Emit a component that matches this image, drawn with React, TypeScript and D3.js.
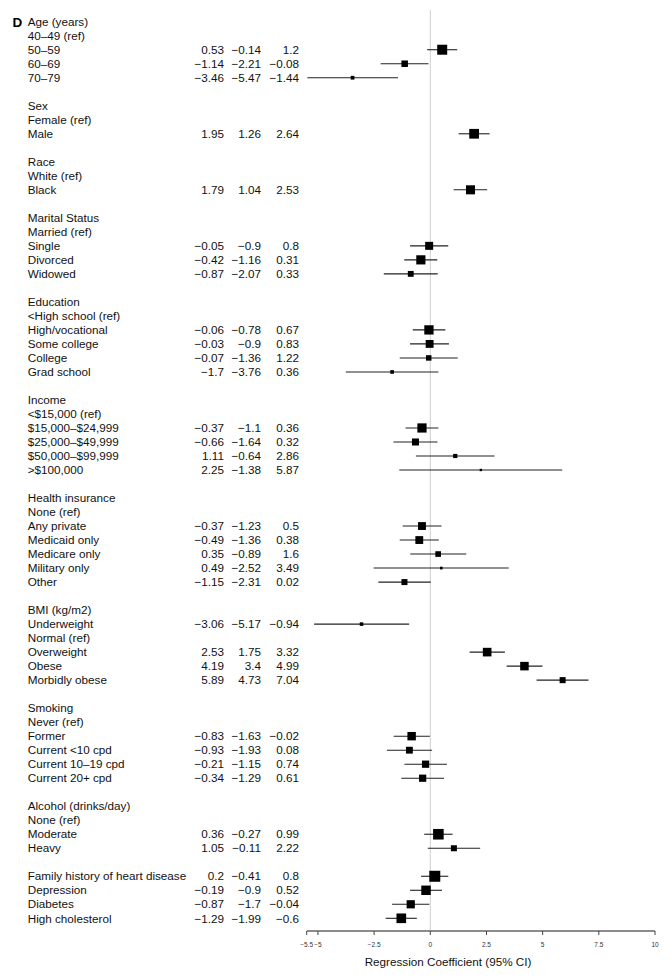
import React from "react";
import * as d3 from "d3";

const labels: string[] = [
  "Age (years)", "40–49 (ref)", "50–59", "60–69", "70–79", "",
  "Sex", "Female (ref)", "Male", "",
  "Race", "White (ref)", "Black", "",
  "Marital Status", "Married (ref)", "Single", "Divorced", "Widowed", "",
  "Education", "<High school (ref)", "High/vocational", "Some college", "College", "Grad school", "",
  "Income", "<$15,000 (ref)", "$15,000–$24,999", "$25,000–$49,999", "$50,000–$99,999", ">$100,000", "",
  "Health insurance", "None (ref)", "Any private", "Medicaid only", "Medicare only", "Military only", "Other", "",
  "BMI (kg/m2)", "Underweight", "Normal (ref)", "Overweight", "Obese", "Morbidly obese", "",
  "Smoking", "Never (ref)", "Former", "Current <10 cpd", "Current 10–19 cpd", "Current 20+ cpd", "",
  "Alcohol (drinks/day)", "None (ref)", "Moderate", "Heavy", "",
  "Family history of heart disease", "Depression", "Diabetes", "High cholesterol",
];

type V = number | null;
const estimate: V[] = [
  null, null, 0.53, -1.14, -3.46, null,
  null, null, 1.95, null,
  null, null, 1.79, null,
  null, null, -0.05, -0.42, -0.87, null,
  null, null, -0.06, -0.03, -0.07, -1.7, null,
  null, null, -0.37, -0.66, 1.11, 2.25, null,
  null, null, -0.37, -0.49, 0.35, 0.49, -1.15, null,
  null, -3.06, null, 2.53, 4.19, 5.89, null,
  null, null, -0.83, -0.93, -0.21, -0.34, null,
  null, null, 0.36, 1.05, null,
  0.2, -0.19, -0.87, -1.29,
];
const lower: V[] = [
  null, null, -0.14, -2.21, -5.47, null,
  null, null, 1.26, null,
  null, null, 1.04, null,
  null, null, -0.9, -1.16, -2.07, null,
  null, null, -0.78, -0.9, -1.36, -3.76, null,
  null, null, -1.1, -1.64, -0.64, -1.38, null,
  null, null, -1.23, -1.36, -0.89, -2.52, -2.31, null,
  null, -5.17, null, 1.75, 3.4, 4.73, null,
  null, null, -1.63, -1.93, -1.15, -1.29, null,
  null, null, -0.27, -0.11, null,
  -0.41, -0.9, -1.7, -1.99,
];
const upper: V[] = [
  null, null, 1.2, -0.08, -1.44, null,
  null, null, 2.64, null,
  null, null, 2.53, null,
  null, null, 0.8, 0.31, 0.33, null,
  null, null, 0.67, 0.83, 1.22, 0.36, null,
  null, null, 0.36, 0.32, 2.86, 5.87, null,
  null, null, 0.5, 0.38, 1.6, 3.49, 0.02, null,
  null, -0.94, null, 3.32, 4.99, 7.04, null,
  null, null, -0.02, 0.08, 0.74, 0.61, null,
  null, null, 0.99, 2.22, null,
  0.8, 0.52, -0.04, -0.6,
];

const tickValues: number[] = [-5.5, -5, -2.5, 0, 2.5, 5, 7.5, 10];
const axisTitle = "Regression Coefficient (95% CI)";

const fmt = (v: number) => {
  const s = String(v);
  return s.startsWith("-") ? "−" + s.slice(1) : s;
};

export default function App() {
  const W = 672, H = 980;
  const x = d3.scaleLinear().domain([-5.5, 10]).range([306.7, 655]);
  const y = d3.scaleLinear().domain([0, labels.length - 1]).range([21.7, 918.3]);
  const font = "'Liberation Sans', Arial, Helvetica, sans-serif";
  const fs = 11.7;
  const widths = labels.map((_, i) =>
    upper[i] != null && lower[i] != null ? (upper[i] as number) - (lower[i] as number) : Infinity
  );
  const minW = d3.min(widths) as number;
  const box = d3.scaleLinear().domain([0, 1]).range([0.6, 11]);
  const axisY = 931;
  return (
    <svg width={W} height={H} style={{ position: "absolute", left: 0, top: 0 }} fontFamily={font}>
      <rect width={W} height={H} fill="#fff" />
      <text x={12.5} y={27} fontSize={13.5} fontWeight="bold" fill="#000">D</text>
      <line x1={x(0)} x2={x(0)} y1={10} y2={axisY} stroke="#cfcfcf" strokeWidth={1} />
      {labels.map((lab, i) => {
        const cy = y(i);
        const e = estimate[i], lo = lower[i], hi = upper[i];
        return (
          <g key={i}>
            {lab && (
              <text x={27.7} y={cy + 4.2} fontSize={fs} fill="#111">{lab}</text>
            )}
            {e != null && lo != null && hi != null && (
              <g>
                <text x={224} y={cy + 4.2} fontSize={fs} fill="#111" textAnchor="end">{fmt(e)}</text>
                <text x={261} y={cy + 4.2} fontSize={fs} fill="#111" textAnchor="end">{fmt(lo)}</text>
                <text x={299} y={cy + 4.2} fontSize={fs} fill="#111" textAnchor="end">{fmt(hi)}</text>
                <line x1={x(lo)} x2={x(hi)} y1={cy} y2={cy} stroke="#222" strokeWidth={1.1} />
                {(() => {
                  const s = box(minW / (hi - lo));
                  return <rect x={x(e) - s / 2} y={cy - s / 2} width={s} height={s} fill="#000" />;
                })()}
              </g>
            )}
          </g>
        );
      })}
      <line x1={x(-5.5)} x2={x(10)} y1={axisY} y2={axisY} stroke="#666" strokeWidth={1.3} />
      {tickValues.map((t) => (
        <g key={t}>
          <line x1={x(t)} x2={x(t)} y1={axisY} y2={axisY + 4} stroke="#444" strokeWidth={1} />
          <text x={x(t)} y={axisY + 15.5} fontSize={6.5} fill="#333" textAnchor="middle">{fmt(t)}</text>
        </g>
      ))}
      <text x={448} y={axisY + 34.5} fontSize={fs} fill="#111" textAnchor="middle">{axisTitle}</text>
    </svg>
  );
}
